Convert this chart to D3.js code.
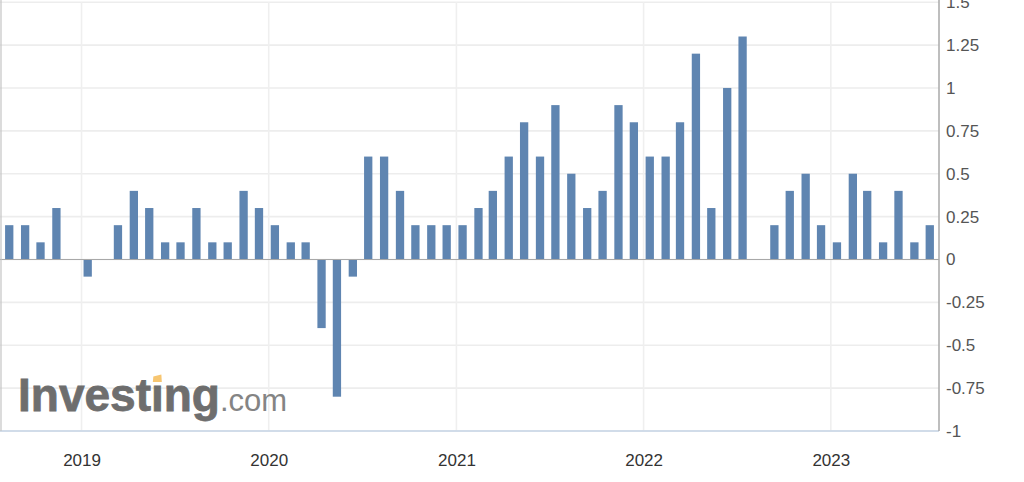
<!DOCTYPE html>
<html>
<head>
<meta charset="utf-8">
<script src="https://cdn.jsdelivr.net/npm/d3@7"></script>
<style>
  body { margin: 0; background: #fff; }
  svg { display: block; }
</style>
</head>
<body>
<div id="chart"></div>
<script>
// monthly values, Aug 2018 .. Jul 2023
var startYear = 2018, startMonth = 7; // August (0-based)
var values = [
  0.2, 0.2, 0.1, 0.3, 0,                                  // 2018 Aug-Dec
  -0.1, 0, 0.2, 0.4, 0.3, 0.1, 0.1, 0.3, 0.1, 0.1, 0.4, 0.3, // 2019
  0.2, 0.1, 0.1, -0.4, -0.8, -0.1, 0.6, 0.6, 0.4, 0.2, 0.2, 0.2, // 2020
  0.2, 0.3, 0.4, 0.6, 0.8, 0.6, 0.9, 0.5, 0.3, 0.4, 0.9, 0.8,  // 2021
  0.6, 0.6, 0.8, 1.2, 0.3, 1.0, 1.3, 0, 0.2, 0.4, 0.5, 0.2,    // 2022
  0.1, 0.5, 0.4, 0.1, 0.4, 0.1, 0.2                           // 2023 Jan-Jul
];
var yearTicks = [2019, 2020, 2021, 2022, 2023];
var yTicks = [-1, -0.75, -0.5, -0.25, 0, 0.25, 0.5, 0.75, 1, 1.25, 1.5];

var width = 1024, height = 482;
var plot = { left: 0, right: 939, top: 2.2, bottom: 431 };
var barWidth = 8.3;

var data = values.map(function(v, i) {
  return { date: new Date(startYear, startMonth + i, 13), value: v };
});

var x = d3.scaleTime()
  .domain([new Date(2018, 6, 26), new Date(2023, 6, 31)])
  .range([plot.left, plot.right]);

var y = d3.scaleLinear()
  .domain([-1, 1.5])
  .range([plot.bottom, plot.top]);

var svg = d3.select('#chart')
  .append('svg')
  .attr('width', width)
  .attr('height', height);

svg.append('rect').attr('width', width).attr('height', height).attr('fill', '#fff');

// grid
svg.append('g')
  .selectAll('line')
  .data(yTicks)
  .enter().append('line')
  .attr('x1', plot.left).attr('x2', plot.right)
  .attr('y1', function(d) { return y(d); })
  .attr('y2', function(d) { return y(d); })
  .attr('stroke', '#ededed')
  .attr('stroke-width', 1.6);

svg.append('g')
  .selectAll('line')
  .data(yearTicks)
  .enter().append('line')
  .attr('x1', function(d) { return x(new Date(d, 0, 1)); })
  .attr('x2', function(d) { return x(new Date(d, 0, 1)); })
  .attr('y1', plot.top).attr('y2', plot.bottom)
  .attr('stroke', '#efefef')
  .attr('stroke-width', 1.6);

// watermark logo
var logo = svg.append('g').attr('opacity', 0.92);
var word = logo.append('text')
  .attr('x', 18).attr('y', 411)
  .attr('font-family', 'Liberation Sans, Arial, sans-serif')
  .attr('font-weight', 'bold')
  .attr('font-size', 46)
  .attr('fill', '#626262')
  .attr('stroke', '#626262')
  .attr('stroke-width', 0.8)
  .text('Invest\u0131ng');
logo.append('text')
  .attr('x', 220).attr('y', 411)
  .attr('font-family', 'Liberation Sans, Arial, sans-serif')
  .attr('font-size', 31)
  .attr('fill', '#7a7a7a')
  .text('.com');
// orange dot over the "i"
var ib = word.node().getExtentOfChar(6);
var ix = ib.x + ib.width / 2;
logo.append('path')
  .attr('d', 'M' + (ix - 4) + ',376.5 L' + (ix + 4) + ',374.5 L' + (ix + 4.5) + ',382 L' + (ix - 4.5) + ',382 Z')
  .attr('fill', '#f7c266');

// bars
svg.append('g')
  .selectAll('rect')
  .data(data.filter(function(d) { return d.value !== 0; }))
  .enter().append('rect')
  .attr('x', function(d) { return x(d.date) - barWidth / 2; })
  .attr('width', barWidth)
  .attr('y', function(d) { return y(Math.max(0, d.value)); })
  .attr('height', function(d) { return Math.abs(y(d.value) - y(0)); })
  .attr('fill', '#5f85b1');

// zero line
svg.append('line')
  .attr('x1', plot.left).attr('x2', plot.right)
  .attr('y1', y(0)).attr('y2', y(0))
  .attr('stroke', '#a8a8a8').attr('stroke-width', 1.2);

// borders
svg.append('line')
  .attr('x1', plot.left).attr('x2', plot.right)
  .attr('y1', plot.bottom).attr('y2', plot.bottom)
  .attr('stroke', '#c6d4e6').attr('stroke-width', 1.5);
svg.append('line')
  .attr('x1', 1).attr('x2', 1)
  .attr('y1', 0).attr('y2', plot.bottom)
  .attr('stroke', '#c4c4c4').attr('stroke-width', 1.2);

// right y axis
var yAxis = d3.axisRight(y)
  .tickValues(yTicks)
  .tickSize(0)
  .tickPadding(7)
  .tickFormat(function(d) { return String(d); });

var ya = svg.append('g')
  .attr('transform', 'translate(' + plot.right + ',0)')
  .call(yAxis);
ya.select('.domain').attr('stroke', '#a8a8a8').attr('stroke-width', 1.5)
  .attr('d', 'M0,0V' + plot.bottom);
ya.selectAll('text')
  .attr('font-family', 'Liberation Sans, Arial, sans-serif')
  .attr('font-size', 17)
  .attr('fill', '#555');

// bottom x axis labels
var xAxis = d3.axisBottom(x)
  .tickValues(yearTicks.map(function(d) { return new Date(d, 0, 1); }))
  .tickSize(0)
  .tickPadding(23)
  .tickFormat(d3.timeFormat('%Y'));

var xa = svg.append('g')
  .attr('transform', 'translate(0,' + plot.bottom + ')')
  .call(xAxis);
xa.select('.domain').remove();
xa.selectAll('text')
  .attr('font-family', 'Liberation Sans, Arial, sans-serif')
  .attr('font-size', 17)
  .attr('fill', '#333');
</script>
</body>
</html>
